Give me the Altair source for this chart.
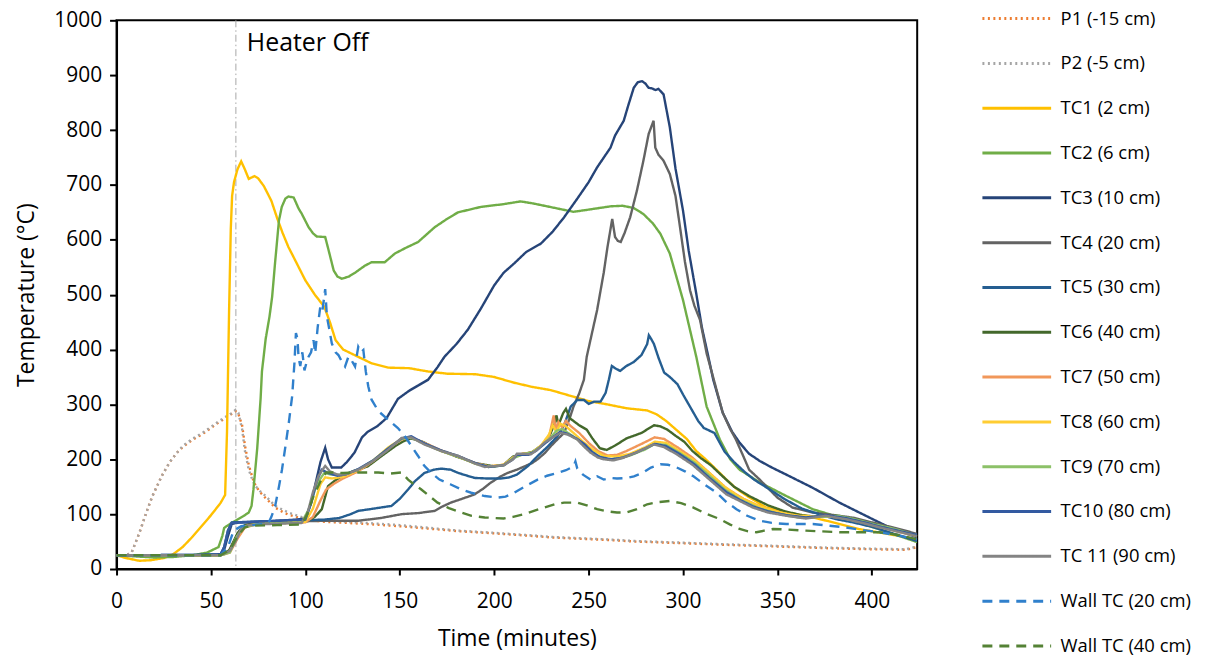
import altair as alt
import pandas as pd

# ---------------- data ----------------
SERIES = ["P1 (-15 cm)", "P2 (-5 cm)", "TC1 (2 cm)", "TC2 (6 cm)", "TC3 (10 cm)",
          "TC4 (20 cm)", "TC5 (30 cm)", "TC6 (40 cm)", "TC7 (50 cm)", "TC8 (60 cm)",
          "TC9 (70 cm)", "TC10 (80 cm)", "TC 11 (90 cm)", "Wall TC (20 cm)", "Wall TC (40 cm)"]
COLORS = ["#ED7D31", "#A5A5A5", "#FFC000", "#70AD47", "#264478",
          "#636363", "#255E91", "#43682B", "#F1975A", "#FFCD33",
          "#8CC168", "#335AA1", "#848484", "#3080CC", "#548235"]
DOT = [2, 3.5]
SOLID = [1, 0]
DASH = [10, 7]
DASHES = [DOT, DOT] + [SOLID] * 11 + [DASH, DASH]

HEATER_OFF_TIME = [63.2]
HEATER_LABEL = ["Heater Off"]

P2_t = [0, 5, 8, 12, 16, 19, 24, 28, 32, 35, 40, 45.5, 50, 54, 58, 61, 63, 64.5, 66.5, 68, 70, 72, 73.6, 76, 79, 82, 84, 88, 91, 96, 100, 110, 128, 150, 181, 200, 233, 260, 275, 300, 323, 350, 376, 400, 418, 424]
P2_v = [25, 25, 30, 65, 105, 133, 170, 194, 212, 224, 237, 248, 259, 269, 278, 284, 290, 285, 255, 215, 181, 162, 151, 142, 133, 122, 115, 108, 103, 97, 92, 88, 85, 80, 70, 66, 58, 54, 51, 48, 45, 42, 39, 37, 36, 41]

P1_t = [0, 5, 8, 12, 16, 19, 24, 28, 32, 35, 40, 45.5, 50, 54, 58, 61, 63, 64.5, 66.5, 68, 70, 72, 73.6, 76, 79, 82, 84, 88, 91, 96, 100, 110, 128, 150, 181, 200, 233, 260, 275, 300, 323, 350, 376, 400, 418, 424]
P1_v = [25, 25, 30, 65, 105, 133, 170, 194, 212, 222, 235, 246, 257, 267, 276, 283, 288, 283, 262, 225, 190, 166, 152, 140, 129, 119, 112, 104, 99, 94, 90, 86, 83, 78, 69, 65, 57, 53, 50, 47, 44, 41, 38, 36, 35, 40]

TC1_t = [0, 5, 12, 18, 25, 30, 35, 40, 45, 50, 55, 57.5, 58.5, 59.6, 60.5, 61.2, 62.2, 64, 66, 68, 70, 73, 75, 78, 82, 85, 88, 91, 95, 100, 105, 110, 113, 116, 120, 126, 135, 144, 155, 165, 175, 190, 200, 210, 220, 230, 240, 250, 260, 270, 281, 286, 291, 296, 302, 307, 312, 318, 323, 328, 334, 344, 355, 365, 376, 393, 410, 424]
TC1_v = [25, 20, 15, 16, 20, 27, 40, 58, 78, 98, 120, 135, 250, 470, 620, 680, 705, 728, 743, 728, 711, 716, 712, 698, 671, 640, 612, 587, 560, 526, 500, 478, 450, 417, 400, 390, 375, 367, 366, 360, 356, 355, 350, 340, 332, 326, 316, 306, 300, 293, 289, 282, 270, 255, 237, 215, 200, 180, 163, 147, 133, 112, 103, 97, 88, 73, 63, 54]

TC2_t = [0, 10, 20, 30, 40, 48, 54, 56, 57, 60, 63, 67, 70, 71.5, 72.5, 74.5, 76.3, 77, 79, 81, 82.4, 84, 86, 87.5, 89.4, 91, 93.8, 95, 96.4, 98, 101.7, 104, 106, 110.5, 112.3, 115, 117, 119.3, 123, 126.3, 131.6, 135, 142, 147.4, 153, 159.7, 168.5, 175, 180.8, 193, 205, 214, 221, 228, 235, 242, 250, 261.6, 268, 273.9, 279, 284, 288, 293, 300, 307, 312.5, 319.5, 325, 330, 340.5, 354.7, 368.7, 386, 403.7, 424]
TC2_v = [25, 23, 21, 22, 25, 30, 40, 60, 75, 82, 88, 96, 103, 115, 145, 220, 311, 360, 420, 460, 496, 560, 635, 660, 675, 679, 677, 668, 657, 648, 623, 612, 606, 605, 581, 544, 533, 529, 533, 540, 553, 559, 559, 575, 585, 596, 623, 638, 650, 660, 665, 670, 666, 661, 656, 651, 655, 661, 662, 658, 647, 630, 611, 575, 490, 387, 296, 236, 200, 181, 158, 133, 109, 91, 73, 49]

TC3_t = [0, 20, 40, 55, 57, 59, 61, 65, 80, 95, 100, 103, 106, 108, 110.5, 112, 114, 119, 122, 126, 130, 133, 138, 143, 149, 155, 160, 165, 170, 173.7, 180, 186, 193, 200, 205, 210.6, 217, 224.7, 231, 237, 244, 250, 254.5, 261.6, 264, 268.6, 271, 273.9, 276, 278.3, 280, 281.8, 283.5, 285.3, 287, 289.7, 293, 296, 300, 303, 307, 310, 313.4, 316, 321, 326, 330, 335, 340.6, 347, 354.7, 368.7, 382.8, 396.8, 411, 424]
TC3_v = [25, 24, 25, 27, 35, 60, 82, 85, 87, 90, 92, 120, 165, 195, 221, 200, 185, 185, 195, 212, 240, 250, 260, 275, 310, 325, 335, 345, 368, 387, 410, 436, 475, 517, 540, 557, 578, 593, 615, 641, 675, 705, 732, 768, 790, 817, 845, 877, 887, 889, 885, 877, 876, 873, 875, 865, 805, 730, 653, 580, 502, 440, 387, 345, 285, 250, 230, 210, 197, 185, 172, 148, 121, 97, 73, 58]

TC4_t = [0, 55, 59, 62, 65, 68, 72, 90, 110, 128, 140, 151, 160, 168.5, 172, 177, 183, 189.6, 194, 198, 203, 207, 212, 216, 220, 223, 227, 230, 234, 237, 240, 242, 245, 247.5, 249, 254.5, 258, 260, 262.5, 264, 265.5, 267, 269, 272, 275.6, 279, 281.8, 284.4, 285.3, 287, 289.7, 293, 296, 298.4, 301, 303.7, 306, 309, 312.5, 316.7, 321, 325, 328, 332, 335, 340, 344, 350, 358, 368.7, 382.8, 391, 400, 412, 424]
TC4_v = [25, 25, 30, 50, 70, 80, 84, 86, 88, 88, 93, 100, 102, 106, 113, 121, 128, 136, 146, 157, 168, 175, 181, 187, 193, 200, 212, 224, 238, 248, 275, 296, 320, 345, 387, 472, 540, 587, 638, 605, 598, 596, 612, 641, 690, 744, 793, 817, 768, 755, 744, 720, 680, 623, 560, 508, 480, 454, 393, 340, 285, 255, 236, 205, 181, 165, 151, 130, 112, 103, 97, 93, 85, 75, 64]

TC5_t = [0, 55, 57, 59, 61, 80, 100, 110, 118, 124, 128, 136, 145.6, 150, 154.4, 158, 163, 168, 172, 177, 181, 189.6, 196, 203.6, 208, 212, 218, 223, 228, 233.5, 237, 240.5, 244, 247.5, 250, 253, 256.3, 259, 260.7, 262.3, 264.5, 266.7, 270, 273.8, 278, 281, 281.9, 283, 284.6, 287, 290, 293, 297, 300, 304, 308, 311, 316.6, 322, 327, 332.6, 338, 345, 354, 363, 372, 380.8, 390, 400, 410, 424]
TC5_v = [25, 26, 40, 70, 85, 87, 89, 90, 93, 100, 106, 110, 115, 128, 145, 160, 175, 181, 183, 181, 175, 166, 165, 165, 167, 172, 188, 206, 222, 242, 262, 296, 308, 308, 301, 305, 305, 321, 345, 370, 365, 361, 370, 377, 390, 410, 426, 420, 410, 385, 358, 350, 337, 318, 294, 270, 257, 248, 214, 195, 177, 162, 147, 127, 110, 100, 91, 85, 77, 66, 51]

TC6_t = [0, 55, 60, 64, 68, 75, 100, 105, 108.7, 112, 116, 119.3, 125, 133, 140, 148, 152, 156, 162, 170, 180, 190, 200, 205, 210, 216, 220, 225, 229, 232, 233, 234, 236.5, 238, 240, 245, 249, 252, 256, 259.6, 264, 270, 278, 284.6, 288, 291.7, 296, 300.6, 305, 309.5, 314.8, 320, 327, 335, 345, 354, 363, 372, 381, 392, 404, 414, 424]
TC6_v = [25, 25, 35, 65, 80, 83, 86, 95, 109, 151, 162, 169, 178, 187, 205, 225, 233, 238, 232, 218, 205, 193, 187, 190, 205, 210, 213, 225, 240, 265, 280, 262, 284, 292, 275, 262, 254, 238, 220, 217, 225, 238, 248, 262, 260, 254, 243, 232, 215, 202, 189, 172, 150, 133, 116, 105, 98, 95, 97, 90, 79, 70, 60]

TC7_t = [0, 55, 60, 64, 68, 75, 100, 104, 108, 111, 115, 120, 128, 136, 144, 151, 156, 163, 172, 181, 190, 197, 205, 210, 215, 220, 225, 229, 231.5, 232.5, 234, 236, 238, 240, 245, 250, 255, 260, 265, 270, 278, 285, 290, 297, 305, 314, 323, 332, 342, 352, 363, 375, 386, 396, 406, 415, 424]
TC7_v = [25, 25, 30, 55, 76, 82, 85, 95, 125, 145, 155, 165, 178, 197, 220, 236, 240, 230, 216, 205, 193, 187, 190, 203, 210, 212, 225, 240, 280, 255, 268, 258, 270, 262, 248, 230, 215, 207, 208, 215, 228, 240, 237, 222, 203, 175, 147, 128, 112, 102, 95, 97, 92, 84, 75, 67, 60]

TC8_t = [0, 55, 60, 64, 68, 75, 100, 104, 108, 110.5, 114, 120, 128, 136, 144, 151, 156, 163, 172, 181, 190, 197, 205, 210, 215, 220, 225, 229, 231, 233, 235, 238, 242, 247, 252, 258, 265, 272, 280, 285, 291, 298, 306, 314, 322, 330, 340, 350, 361, 372, 382, 392, 402, 412, 424]
TC8_v = [25, 25, 32, 60, 78, 83, 86, 110, 155, 167, 165, 168, 180, 198, 222, 237, 240, 229, 215, 205, 192, 187, 190, 203, 210, 212, 226, 245, 262, 250, 265, 260, 248, 232, 218, 206, 205, 210, 222, 232, 230, 215, 198, 175, 150, 131, 115, 104, 97, 96, 95, 88, 79, 71, 60]

TC9_t = [0, 55, 60, 63, 67, 75, 98, 102, 106, 110, 114, 120, 128, 136, 144, 151, 156, 163, 172, 181, 190, 197, 205, 210, 216, 220, 225, 230, 233, 236, 240, 245, 250, 255, 260, 266, 272, 280, 285, 291, 298, 306, 314, 322, 330, 340, 350, 361, 372, 382, 392, 402, 412, 424]
TC9_v = [25, 25, 30, 55, 76, 82, 85, 110, 155, 175, 172, 172, 181, 198, 220, 237, 240, 228, 215, 205, 192, 186, 189, 202, 210, 212, 224, 240, 252, 255, 246, 234, 218, 206, 200, 201, 207, 218, 228, 226, 212, 194, 170, 145, 127, 111, 101, 94, 95, 97, 90, 81, 73, 61]

TC10_t = [0, 55, 57, 59, 61, 80, 100, 103, 106, 108.6, 112, 117, 121, 128, 136, 144, 151, 156, 163, 172, 181, 190, 197, 205, 210, 212, 218, 222, 226.5, 231, 235, 239, 244, 248, 252, 256, 262, 268, 275, 280, 285, 291, 298, 306, 314, 323, 330, 337, 345, 355, 365, 376, 386, 396, 406, 416, 424]
TC10_v = [25, 26, 40, 70, 84, 87, 90, 120, 160, 181, 175, 170, 172, 182, 198, 220, 238, 242, 229, 216, 206, 193, 186, 189, 200, 208, 208, 215, 228, 240, 250, 246, 237, 227, 213, 204, 200, 203, 212, 220, 228, 224, 210, 191, 166, 140, 126, 114, 105, 98, 94, 98, 93, 85, 76, 68, 62]

TC11_t = [0, 55, 60, 63, 66, 70, 80, 98, 101, 104, 107, 110.5, 113, 117, 121, 128, 135, 143, 151, 156, 163, 172, 181, 190, 195, 205, 210, 212, 216, 219.4, 223, 226.5, 231, 235, 239, 244, 247, 251, 255, 258, 263, 268.6, 275, 280, 284.4, 290, 296.7, 305, 314, 323, 330, 337, 345, 354.7, 365, 375.7, 386, 395, 404, 414, 424]
TC11_v = [25, 25, 33, 50, 73, 80, 82, 84, 100, 140, 170, 188, 178, 172, 172, 181, 195, 215, 239, 240, 227, 215, 206, 192, 186, 189, 200, 210, 210, 209, 218, 230, 240, 248, 245, 236, 225, 212, 203, 200, 198, 203, 212, 220, 227, 222, 209, 190, 163, 136, 124, 112, 103, 97, 92, 97, 91, 84, 76, 68, 60]

W20_t = [0, 55, 59, 62, 66, 72, 78, 80.6, 82, 84, 86, 87.6, 89.5, 91.2, 93, 94.2, 95, 95.8, 96.4, 97.3, 98.4, 99.5, 100.5, 101.7, 103, 104.3, 105.2, 106.5, 107.9, 109, 110.5, 111.4, 112.5, 114, 116, 117.5, 119, 121, 122.8, 124.5, 126.3, 128, 129.5, 130.7, 132, 133.3, 135, 138.6, 143.9, 149, 152.7, 156, 159.7, 163, 166.7, 171, 177, 182, 187.8, 195, 201.8, 206, 210.6, 216, 223, 228, 233.5, 238, 242, 243, 244, 247, 251, 254.5, 258, 261.6, 265, 270.4, 274, 279, 283, 288, 292, 296.7, 301, 305.5, 311, 317.8, 323, 328.3, 334, 340.6, 347, 354.7, 368.7, 377, 386, 395, 404, 414, 424]
W20_v = [25, 25, 40, 70, 78, 80, 82, 85, 95, 115, 150, 181, 225, 266, 315, 375, 430, 420, 385, 370, 395, 362, 375, 387, 395, 417, 393, 440, 478, 470, 510, 460, 440, 411, 395, 390, 380, 369, 387, 380, 369, 405, 395, 399, 360, 333, 309, 288, 272, 257, 242, 225, 206, 188, 175, 163, 154, 146, 139, 133, 130, 132, 139, 150, 163, 170, 175, 180, 187, 196, 183, 172, 163, 169, 163, 166, 165, 166, 169, 176, 185, 191, 190, 185, 178, 169, 155, 139, 122, 109, 97, 88, 84, 82, 82, 79, 76, 71, 67, 61, 54]

W40_t = [0, 55, 60, 64, 68, 72, 85, 98, 101, 104, 108, 111, 115, 120, 128, 138.6, 145, 151, 154.4, 158, 161.4, 166, 170, 176, 182.5, 188, 195, 205, 210, 216, 221, 226.5, 232, 237, 244, 249, 254.5, 260, 265, 270, 275.6, 281, 287, 293, 299, 305.5, 312, 319.5, 325, 330, 334, 338.9, 343, 347.7, 355, 365, 382.8, 404, 414, 424]
W40_v = [25, 25, 35, 60, 76, 79, 80, 81, 100, 130, 160, 176, 176, 175, 176, 176, 174, 176, 163, 153, 145, 132, 121, 111, 103, 97, 94, 92, 95, 100, 106, 112, 118, 121, 121, 116, 109, 105, 103, 103, 109, 118, 122, 124, 120, 112, 101, 91, 81, 73, 69, 67, 70, 73, 72, 70, 67, 67, 62, 54]

SERIES_DATA = [(P1_t, P1_v), (P2_t, P2_v), (TC1_t, TC1_v), (TC2_t, TC2_v), (TC3_t, TC3_v),
               (TC4_t, TC4_v), (TC5_t, TC5_v), (TC6_t, TC6_v), (TC7_t, TC7_v), (TC8_t, TC8_v),
               (TC9_t, TC9_v), (TC10_t, TC10_v), (TC11_t, TC11_v), (W20_t, W20_v), (W40_t, W40_v)]

X_TICKS = [0, 50, 100, 150, 200, 250, 300, 350, 400]
Y_TICKS = [0, 100, 200, 300, 400, 500, 600, 700, 800, 900, 1000]

# ---------------- build table ----------------
rows = []
for name, (ts, vs) in zip(SERIES, SERIES_DATA):
    for i, (t, v) in enumerate(zip(ts, vs)):
        rows.append({"series": name, "t": t, "T": v, "i": i})
df = pd.DataFrame(rows)

FONT = "Open Sans"

x_scale = alt.Scale(domain=[0, 424], nice=False, zero=False)
y_scale = alt.Scale(domain=[0, 1000], nice=False)

x_axis = alt.Axis(values=X_TICKS, title="Time (minutes)", grid=False, tickSize=6,
                  labelPadding=16, titlePadding=16, labelFlush=False, format="d")
y_axis = alt.Axis(values=Y_TICKS, title="Temperature (°C)", grid=False, tickSize=7,
                  labelPadding=8, titlePadding=15, format="d")

color_scale = alt.Scale(domain=SERIES, range=COLORS)
dash_scale = alt.Scale(domain=SERIES, range=DASHES)

heater_df = pd.DataFrame({"t": HEATER_OFF_TIME, "label": HEATER_LABEL})

rule = alt.Chart(heater_df).mark_rule(color="#A6A6A6", strokeWidth=1,
                                      strokeDash=[7, 3, 1.5, 3]).encode(
    x=alt.X("t:Q", scale=x_scale, axis=x_axis)
)
label = alt.Chart(heater_df).mark_text(align="left", baseline="middle", dx=11,
                                       fontSize=25, font=FONT, color="black").encode(
    x=alt.X("t:Q", scale=x_scale, axis=x_axis),
    y=alt.value(23),
    text="label:N",
)

layers = [rule]
for name in SERIES:
    layers.append(
        alt.Chart(df).transform_filter(alt.datum.series == name)
        .mark_line(strokeWidth=2.4, clip=True)
        .encode(
            x=alt.X("t:Q", scale=x_scale, axis=x_axis),
            y=alt.Y("T:Q", scale=y_scale, axis=y_axis),
            color=alt.Color("series:N", scale=color_scale, title=None),
            strokeDash=alt.StrokeDash("series:N", scale=dash_scale, title=None),
            order="i:Q",
        )
    )
layers.append(label)

chart = alt.layer(*layers).properties(
    width=804, height=551,
    autosize=alt.AutoSizeParams(type="none"),
    padding={"left": 109, "top": 11, "right": 285, "bottom": 92},
).configure_view(
    stroke="black", strokeWidth=2
).configure_axis(
    domainColor="black", domainWidth=2, tickColor="black", tickWidth=2,
    labelColor="black", labelFont=FONT, labelFontSize=21,
    titleColor="black", titleFont=FONT, titleFontSize=23, titleFontWeight="normal",
).configure_legend(
    orient="none", legendX=868, legendY=-11, padding=0,
    symbolType="stroke", symbolSize=4761, symbolStrokeWidth=3,
    clipHeight=18.5, rowPadding=26, labelOffset=8,
    labelFont=FONT, labelFontSize=18.5, labelColor="black", labelLimit=400,
)

chart.save("out.html", embed_options={"renderer": "svg", "actions": False})
